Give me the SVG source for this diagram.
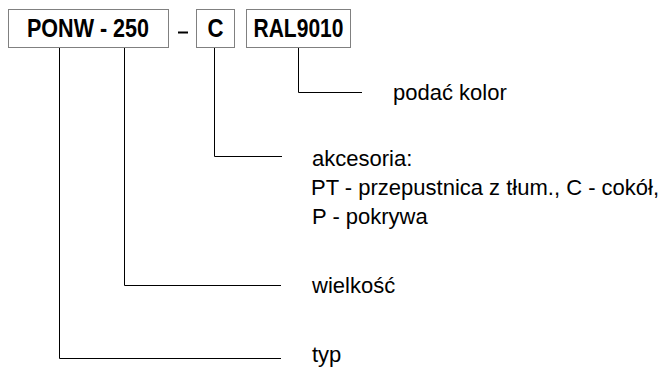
<svg xmlns="http://www.w3.org/2000/svg" width="659" height="369" viewBox="0 0 659 369">
  <style>
    .box { fill: #ffffff; stroke: #808080; stroke-width: 1; }
    .code { font-family: "Liberation Sans", Arial, sans-serif; font-weight: bold; font-size: 25px; fill: #000; text-anchor: middle; }
    .lbl { font-family: "Liberation Sans", Arial, sans-serif; font-size: 22px; fill: #000; }
    .conn { fill: none; stroke: #000; stroke-width: 1; }
  </style>
  <rect width="659" height="369" fill="#ffffff"/>
  <g id="node-type">
    <rect class="box" x="8.5" y="9.5" width="160" height="38"/>
    <text class="code" x="88" y="37" textLength="122" lengthAdjust="spacingAndGlyphs">PONW - 250</text>
  </g>
  <g id="dash">
    <line x1="178" y1="32.5" x2="188" y2="32.5" stroke="#000" stroke-width="2"/>
  </g>
  <g id="node-accessory">
    <rect class="box" x="196.5" y="9.5" width="38" height="38"/>
    <text class="code" x="215.5" y="37" textLength="16" lengthAdjust="spacingAndGlyphs">C</text>
  </g>
  <g id="node-colour">
    <rect class="box" x="246.5" y="9.5" width="104" height="38"/>
    <text class="code" x="298.5" y="37" textLength="90" lengthAdjust="spacingAndGlyphs">RAL9010</text>
  </g>
  <g id="connectors">
    <polyline class="conn" points="59.5,48 59.5,358.5 281,358.5"/>
    <polyline class="conn" points="124.5,48 124.5,285.5 281,285.5"/>
    <polyline class="conn" points="214.5,48 214.5,156.5 282,156.5"/>
    <polyline class="conn" points="298.5,48 298.5,92.5 362,92.5"/>
  </g>
  <g id="label-colour">
    <text class="lbl" x="393" y="100">podać kolor</text>
  </g>
  <g id="label-accessory">
    <text class="lbl" x="312" y="166">akcesoria:</text>
    <text class="lbl" x="311" y="195">PT - przepustnica z tłum., C - cokół,</text>
    <text class="lbl" x="312" y="224">P - pokrywa</text>
  </g>
  <g id="label-size">
    <text class="lbl" x="312" y="293">wielkość</text>
  </g>
  <g id="label-type">
    <text class="lbl" x="312" y="362">typ</text>
  </g>
</svg>
